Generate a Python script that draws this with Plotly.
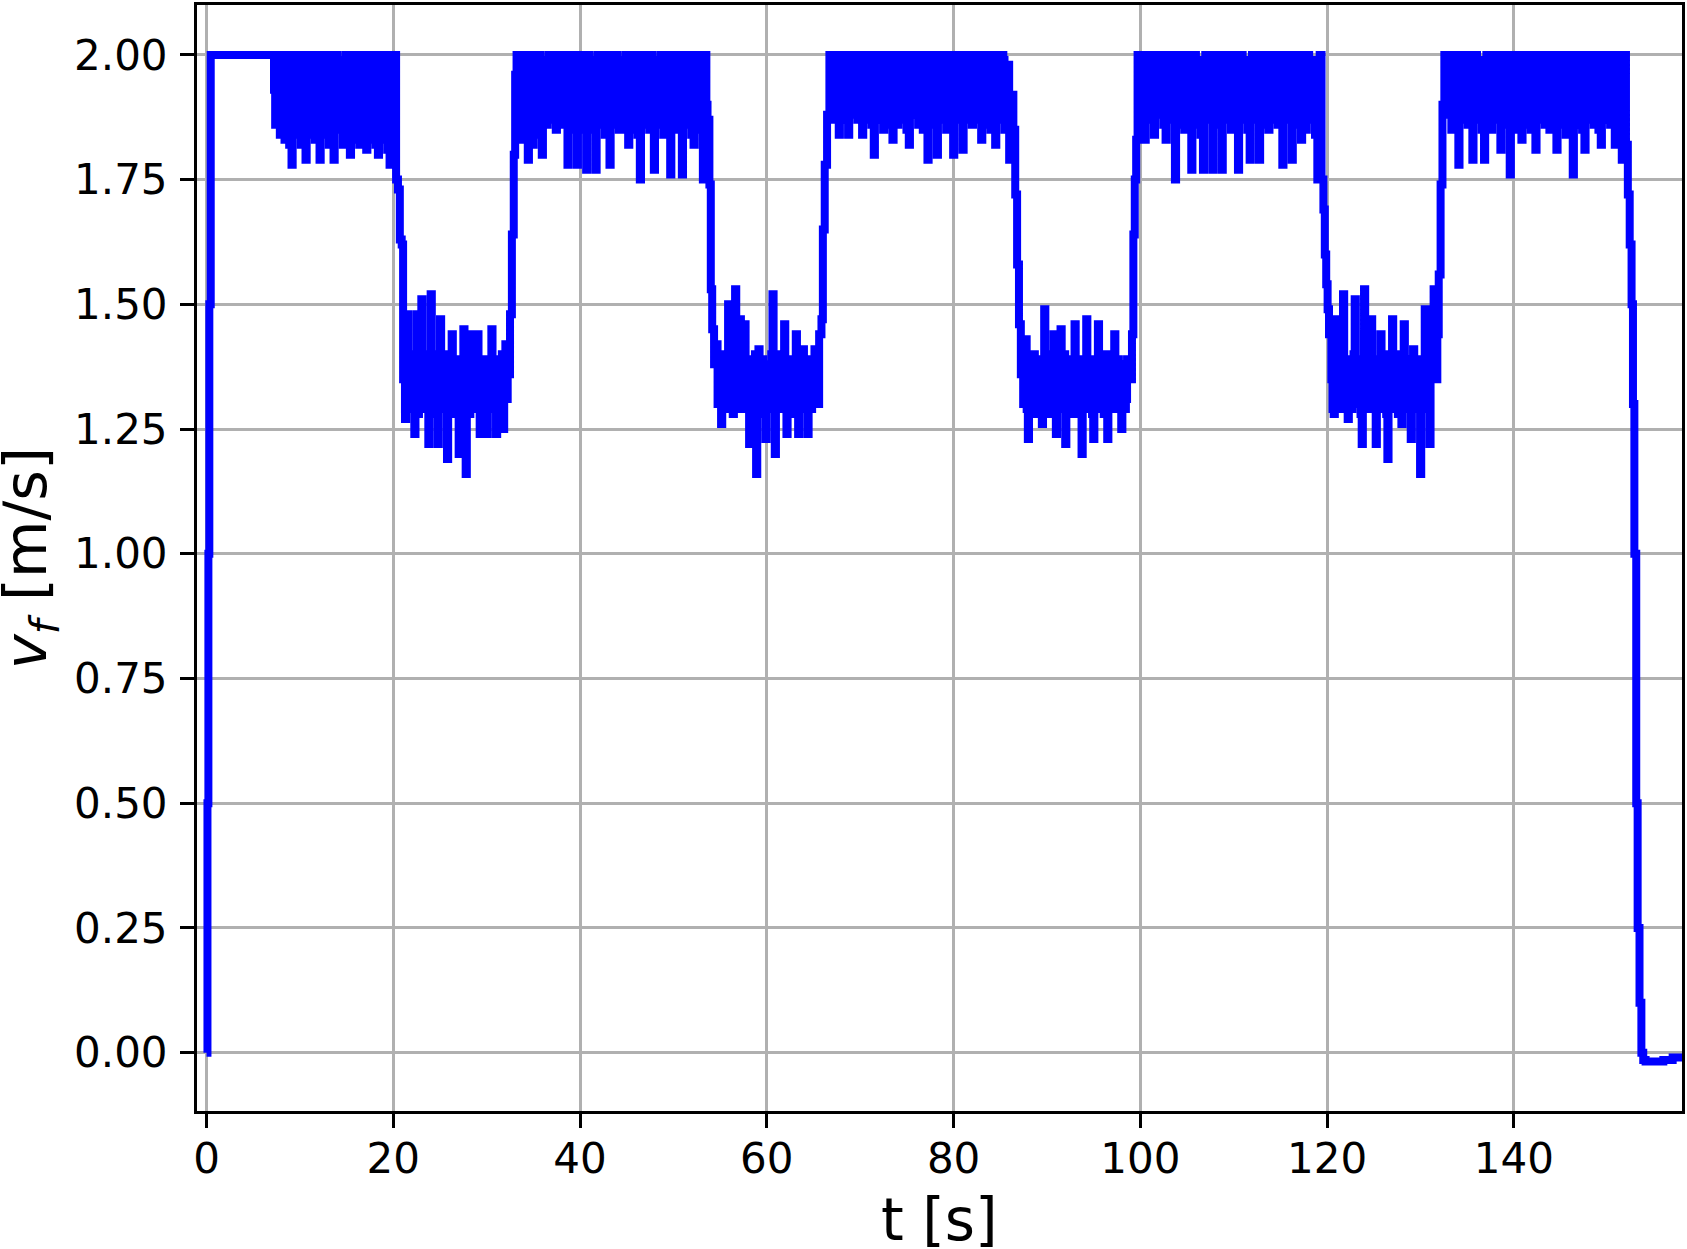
import numpy as np
import plotly.graph_objects as go

# ---------------- data ----------------
# Noisy phases: "<phase>" holds samples every DT seconds starting at
# "<phase>_t0"; "<phase>_mid" holds the samples in between (DT/2 later).
DT = 0.25

t_startup = [0.0, 0.1, 0.2, 0.3, 0.45]
v_startup = [0.0, 0.5, 1.0, 1.5, 2.0]

high1_t0 = 7.1
high1 = [2.00, 1.86, 2.00, 1.84, 1.99, 1.83, 2.00, 1.82, 1.78, 2.00,
         1.84, 1.98, 1.82, 2.00, 1.79, 1.96, 1.84, 2.00, 1.83, 2.00,
         1.79, 1.97, 1.84, 2.00, 1.82, 1.99, 1.79, 2.00, 1.85, 1.96,
         1.82, 2.00, 1.84, 1.80, 2.00, 1.83, 1.97, 1.82, 2.00, 1.84,
         1.81, 2.00, 1.83, 1.99, 1.82, 1.80, 2.00, 1.83, 2.00, 1.81,
         1.78, 1.98, 2.00]
high1_mid = [1.93, 1.99, 1.86, 2.00, 1.85, 1.98, 1.84, 1.86, 1.99, 1.85,
             2.00, 1.86, 1.97, 1.84, 2.00, 1.87, 1.99, 1.85, 2.00, 1.84,
             1.98, 1.86, 2.00, 1.85, 1.97, 1.84, 2.00, 1.87, 1.99, 1.85,
             1.98, 1.86, 2.00, 1.99, 1.85, 2.00, 1.84, 1.97, 1.86, 1.99,
             1.98, 1.85, 2.00, 1.84, 1.99, 1.97, 1.85, 1.99, 1.84, 1.99,
             2.00, 1.86]

fall1_t = [20.3, 20.5, 20.7, 20.9, 21.05]
fall1_v = [1.75, 1.73, 1.63, 1.62, 1.35]

low1_t0 = 21.25
low1 = [1.27, 1.48, 1.31, 1.36, 1.24, 1.48, 1.30, 1.51, 1.33, 1.29,
        1.22, 1.52, 1.33, 1.37, 1.22, 1.47, 1.31, 1.36, 1.19, 1.38,
        1.44, 1.30, 1.35, 1.20, 1.38, 1.45, 1.16, 1.34, 1.44, 1.31,
        1.36, 1.44, 1.24, 1.37, 1.30, 1.24, 1.38, 1.45, 1.31, 1.24,
        1.37, 1.32, 1.25, 1.42, 1.36]
low1_mid = [1.39, 1.29, 1.40, 1.30, 1.38, 1.28, 1.39, 1.30, 1.40, 1.37,
            1.39, 1.29, 1.40, 1.28, 1.38, 1.29, 1.40, 1.29, 1.37, 1.28,
            1.30, 1.39, 1.28, 1.38, 1.29, 1.31, 1.39, 1.28, 1.30, 1.40,
            1.29, 1.30, 1.38, 1.29, 1.39, 1.37, 1.29, 1.30, 1.39, 1.36,
            1.29, 1.40, 1.38, 1.31]

rise1_t = [32.5, 32.7, 32.9, 33.05, 33.2]
rise1_v = [1.48, 1.64, 1.80, 1.96, 2.00]

high2_t0 = 33.4
high2 = [1.97, 1.83, 2.00, 1.85, 1.79, 2.00, 1.82, 1.99, 1.84, 2.00,
         1.80, 1.98, 1.86, 2.00, 1.87, 1.95, 1.85, 2.00, 1.88, 1.97,
         1.86, 1.78, 2.00, 1.85, 1.99, 1.78, 2.00, 1.86, 1.98, 1.77,
         2.00, 1.85, 1.99, 1.77, 2.00, 1.88, 1.96, 1.84, 2.00, 1.78,
         1.98, 1.87, 2.00, 1.85, 1.97, 1.87, 2.00, 1.82, 1.99, 1.86,
         2.00, 1.84, 1.75, 2.00, 1.86, 1.98, 1.85, 2.00, 1.77, 1.97,
         1.87, 2.00, 1.84, 1.99, 1.86, 1.76, 2.00, 1.85, 1.98, 1.87,
         1.76, 2.00, 1.86, 1.99, 1.84, 1.82, 2.00, 1.85, 1.98, 1.75,
         2.00, 1.87]
high2_mid = [1.90, 1.99, 1.86, 1.98, 1.99, 1.85, 2.00, 1.86, 1.99, 1.85,
             1.99, 1.87, 1.98, 1.89, 2.00, 1.88, 1.97, 1.86, 2.00, 1.87,
             1.99, 1.98, 1.86, 2.00, 1.87, 1.99, 1.85, 2.00, 1.86, 1.99,
             1.87, 1.98, 1.86, 1.99, 1.86, 2.00, 1.88, 1.98, 1.86, 1.99,
             1.86, 2.00, 1.87, 1.99, 1.86, 1.98, 1.85, 2.00, 1.87, 1.99,
             1.85, 1.98, 1.99, 1.87, 2.00, 1.86, 1.99, 1.86, 1.98, 1.88,
             1.99, 1.86, 2.00, 1.87, 1.98, 1.99, 1.86, 2.00, 1.88, 1.99,
             1.98, 1.87, 2.00, 1.86, 1.98, 1.99, 1.86, 2.00, 1.86, 1.99,
             1.90]

fall2_t = [53.85, 54.0, 54.15, 54.35]
fall2_v = [1.74, 1.53, 1.45, 1.38]

low2_t0 = 54.6
low2 = [1.42, 1.31, 1.26, 1.40, 1.33, 1.50, 1.35, 1.28, 1.53, 1.32,
        1.47, 1.34, 1.46, 1.30, 1.22, 1.37, 1.31, 1.16, 1.41, 1.33,
        1.37, 1.23, 1.36, 1.30, 1.52, 1.20, 1.35, 1.31, 1.38, 1.46,
        1.24, 1.36, 1.30, 1.35, 1.44, 1.24, 1.34, 1.41, 1.30, 1.24,
        1.37, 1.33, 1.41, 1.30]
low2_mid = [1.30, 1.40, 1.38, 1.29, 1.39, 1.29, 1.30, 1.39, 1.30, 1.40,
            1.29, 1.38, 1.29, 1.39, 1.37, 1.29, 1.40, 1.36, 1.29, 1.39,
            1.28, 1.38, 1.29, 1.40, 1.29, 1.37, 1.29, 1.40, 1.29, 1.30,
            1.38, 1.29, 1.39, 1.28, 1.30, 1.38, 1.29, 1.30, 1.39, 1.37,
            1.29, 1.39, 1.30]

rise2_t = [65.6, 65.85, 66.0, 66.2, 66.45, 66.7]
rise2_v = [1.44, 1.47, 1.65, 1.78, 1.88, 2.00]

high3_t0 = 66.95
high3 = [1.87, 2.00, 1.88, 1.84, 2.00, 1.89, 1.98, 1.84, 2.00, 1.88,
         1.96, 1.87, 2.00, 1.84, 1.99, 1.88, 2.00, 1.86, 1.80, 2.00,
         1.87, 1.97, 1.85, 2.00, 1.88, 1.99, 1.83, 2.00, 1.86, 1.97,
         1.87, 2.00, 1.85, 1.82, 2.00, 1.88, 1.96, 1.86, 2.00, 1.85,
         1.98, 1.79, 2.00, 1.86, 1.99, 1.80, 2.00, 1.87, 1.97, 1.85,
         2.00, 1.86, 1.80, 2.00, 1.87, 1.99, 1.81, 2.00, 1.88, 1.97,
         1.86, 2.00, 1.87, 1.98, 1.83, 2.00, 1.86, 1.99, 1.85, 2.00,
         1.82, 1.98, 1.87, 2.00, 1.85, 1.96, 1.79, 1.92]
high3_mid = [1.99, 1.90, 1.98, 1.99, 1.88, 2.00, 1.87, 1.99, 1.89, 2.00,
             1.88, 1.99, 1.87, 2.00, 1.88, 1.99, 1.87, 1.98, 1.99, 1.88,
             2.00, 1.87, 1.99, 1.89, 2.00, 1.86, 1.99, 1.88, 2.00, 1.87,
             1.99, 1.87, 1.98, 1.99, 1.89, 2.00, 1.88, 1.99, 1.87, 2.00,
             1.98, 1.88, 2.00, 1.87, 1.99, 1.88, 2.00, 1.88, 1.99, 1.87,
             2.00, 1.98, 1.88, 2.00, 1.88, 1.99, 1.87, 2.00, 1.89, 1.99,
             1.88, 2.00, 1.87, 1.99, 1.88, 2.00, 1.87, 1.99, 1.88, 1.99,
             1.87, 2.00, 1.88, 1.99, 1.87, 1.98, 1.88]

fall3_t = [86.4, 86.6, 86.8, 87.0, 87.2]
fall3_v = [1.85, 1.72, 1.58, 1.46, 1.36]

low3_t0 = 87.45
low3 = [1.30, 1.43, 1.23, 1.36, 1.31, 1.38, 1.29, 1.35, 1.26, 1.49,
        1.32, 1.37, 1.30, 1.44, 1.24, 1.36, 1.45, 1.31, 1.22, 1.37,
        1.32, 1.35, 1.46, 1.30, 1.36, 1.20, 1.38, 1.47, 1.31, 1.35,
        1.23, 1.37, 1.46, 1.30, 1.35, 1.32, 1.23, 1.38, 1.31, 1.44,
        1.33, 1.29, 1.25, 1.37, 1.31, 1.38]
low3_mid = [1.39, 1.29, 1.38, 1.29, 1.40, 1.28, 1.39, 1.29, 1.38, 1.30,
            1.40, 1.28, 1.39, 1.30, 1.37, 1.29, 1.30, 1.40, 1.37, 1.29,
            1.39, 1.28, 1.31, 1.39, 1.29, 1.38, 1.29, 1.30, 1.39, 1.28,
            1.38, 1.29, 1.30, 1.39, 1.28, 1.40, 1.37, 1.29, 1.40, 1.30,
            1.39, 1.38, 1.36, 1.29, 1.39]

rise3_t = [98.95, 99.1, 99.25, 99.4, 99.55, 99.7]
rise3_v = [1.35, 1.44, 1.64, 1.75, 1.83, 2.00]

high4_t0 = 99.95
high4 = [1.88, 2.00, 1.83, 1.99, 1.87, 2.00, 1.84, 1.97, 1.88, 2.00,
         1.86, 1.83, 2.00, 1.87, 1.98, 1.75, 2.00, 1.86, 1.99, 1.85,
         2.00, 1.87, 1.77, 2.00, 1.86, 1.97, 1.84, 1.77, 2.00, 1.88,
         1.98, 1.77, 2.00, 1.86, 1.99, 1.77, 2.00, 1.87, 1.96, 1.85,
         2.00, 1.86, 1.77, 2.00, 1.88, 1.98, 1.85, 1.79, 2.00, 1.87,
         1.99, 1.79, 2.00, 1.86, 1.97, 1.85, 2.00, 1.88, 1.98, 1.86,
         2.00, 1.78, 1.99, 1.87, 2.00, 1.79, 1.98, 1.86, 2.00, 1.83,
         1.97, 1.85, 2.00, 1.87, 1.99, 1.84, 1.75, 2.00]
high4_mid = [1.99, 1.87, 2.00, 1.88, 1.99, 1.87, 2.00, 1.89, 1.99, 1.88,
             1.99, 1.87, 2.00, 1.88, 1.99, 1.86, 2.00, 1.87, 1.99, 1.88,
             1.99, 1.98, 1.87, 2.00, 1.88, 1.99, 1.98, 1.87, 2.00, 1.88,
             1.99, 1.87, 2.00, 1.88, 1.99, 1.87, 2.00, 1.88, 1.99, 1.87,
             1.99, 1.98, 1.87, 2.00, 1.88, 1.99, 1.98, 1.87, 2.00, 1.88,
             1.99, 1.87, 2.00, 1.88, 1.99, 1.87, 2.00, 1.88, 1.99, 1.87,
             1.99, 1.88, 2.00, 1.87, 1.99, 1.88, 2.00, 1.87, 1.99, 1.88,
             2.00, 1.87, 1.99, 1.88, 1.99, 1.97, 1.88]

fall4_t = [119.4, 119.6, 119.75, 119.9, 120.05, 120.2]
fall4_v = [1.75, 1.69, 1.60, 1.54, 1.49, 1.44]

low4_t0 = 120.45
low4 = [1.35, 1.28, 1.47, 1.33, 1.38, 1.52, 1.31, 1.27, 1.37, 1.33,
        1.51, 1.30, 1.36, 1.22, 1.53, 1.32, 1.38, 1.47, 1.29, 1.22,
        1.36, 1.44, 1.31, 1.34, 1.19, 1.37, 1.47, 1.30, 1.35, 1.32,
        1.26, 1.46, 1.31, 1.36, 1.23, 1.41, 1.33, 1.29, 1.16, 1.37,
        1.49, 1.31, 1.22, 1.36]
low4_mid = [1.29, 1.39, 1.30, 1.40, 1.29, 1.30, 1.39, 1.38, 1.29, 1.40,
            1.30, 1.39, 1.28, 1.38, 1.29, 1.40, 1.29, 1.30, 1.39, 1.37,
            1.29, 1.30, 1.40, 1.28, 1.38, 1.29, 1.30, 1.39, 1.28, 1.40,
            1.38, 1.29, 1.39, 1.29, 1.38, 1.29, 1.39, 1.37, 1.38, 1.29,
            1.30, 1.39, 1.37]

rise4_t = [131.4, 131.6, 131.8, 131.95, 132.15, 132.35, 132.55]
rise4_v = [1.53, 1.35, 1.44, 1.56, 1.74, 1.90, 2.00]

high5_t0 = 132.8
high5 = [1.88, 2.00, 1.85, 1.99, 1.86, 1.78, 2.00, 1.87, 1.98, 1.86,
         2.00, 1.79, 2.00, 1.87, 1.97, 1.85, 1.79, 2.00, 1.88, 1.85,
         2.00, 1.87, 1.99, 1.81, 2.00, 1.86, 1.98, 1.76, 2.00, 1.85,
         1.99, 1.87, 1.83, 2.00, 1.86, 1.97, 1.85, 2.00, 1.81, 1.99,
         1.87, 2.00, 1.86, 1.98, 1.85, 2.00, 1.87, 1.81, 2.00, 1.86,
         1.98, 1.84, 2.00, 1.87, 1.76, 2.00, 1.86, 1.99, 1.85, 1.81,
         2.00, 1.87, 1.97, 1.86, 2.00, 1.85, 1.82, 2.00, 1.87, 1.98,
         1.86, 2.00, 1.82, 1.99, 1.86, 1.79, 2.00]
high5_mid = [1.99, 1.88, 2.00, 1.87, 1.99, 1.98, 1.88, 1.99, 1.87, 2.00,
             1.99, 1.88, 2.00, 1.87, 1.99, 1.98, 1.88, 2.00, 1.98, 1.87,
             2.00, 1.88, 1.99, 1.98, 1.87, 2.00, 1.88, 1.99, 1.87, 2.00,
             1.88, 1.99, 1.98, 1.88, 2.00, 1.87, 1.99, 1.88, 1.99, 1.87,
             2.00, 1.88, 1.99, 1.87, 2.00, 1.88, 1.99, 1.98, 1.87, 2.00,
             1.88, 1.99, 1.87, 1.99, 1.98, 1.88, 2.00, 1.87, 1.99, 1.98,
             1.88, 2.00, 1.87, 1.99, 1.88, 2.00, 1.98, 1.88, 2.00, 1.87,
             1.99, 1.88, 2.00, 1.87, 1.99, 1.98]

t_stop = [152.0, 152.2, 152.4, 152.6, 152.75, 152.9, 153.1, 153.25,
          153.45, 153.65, 153.85, 154.1, 155.0, 156.0, 157.0, 158.0]
v_stop = [1.82, 1.72, 1.62, 1.50, 1.30, 1.00, 0.50, 0.25,
          0.10, 0.00, -0.015, -0.018, -0.018, -0.015, -0.010, -0.006]

x_ticks = [0, 20, 40, 60, 80, 100, 120, 140]
y_ticks = [0.0, 0.25, 0.5, 0.75, 1.0, 1.25, 1.5, 1.75, 2.0]
x_label = "t [s]"
y_label = "<i>v</i><sub><i>f</i></sub> [m/s]"

# ---------------- assemble the series ----------------
def sampled(t0, vals, mids):
    pts = [(t0 + DT * i, v) for i, v in enumerate(vals)]
    n = min(len(mids), len(vals) - 1)
    pts += [(t0 + DT * (i + 0.5), mids[i]) for i in range(n)]
    return pts

points = list(zip(t_startup, v_startup))
points += sampled(high1_t0, high1, high1_mid) + list(zip(fall1_t, fall1_v))
points += sampled(low1_t0, low1, low1_mid) + list(zip(rise1_t, rise1_v))
points += sampled(high2_t0, high2, high2_mid) + list(zip(fall2_t, fall2_v))
points += sampled(low2_t0, low2, low2_mid) + list(zip(rise2_t, rise2_v))
points += sampled(high3_t0, high3, high3_mid) + list(zip(fall3_t, fall3_v))
points += sampled(low3_t0, low3, low3_mid) + list(zip(rise3_t, rise3_v))
points += sampled(high4_t0, high4, high4_mid) + list(zip(fall4_t, fall4_v))
points += sampled(low4_t0, low4, low4_mid) + list(zip(rise4_t, rise4_v))
points += sampled(high5_t0, high5, high5_mid) + list(zip(t_stop, v_stop))
points.sort(key=lambda p: p[0])
t_all = [round(p[0], 4) for p in points]
v_all = [p[1] for p in points]

# ---------------- figure ----------------
W, H = 1687, 1249
ML, MR, MT, MB = 197, 3, 2, 138
FONT = "DejaVu Sans"

fig = go.Figure()
fig.add_trace(go.Scatter(
    x=t_all, y=v_all, mode="lines",
    line=dict(color="#0000ff", width=8, shape="hv", simplify=False),
    showlegend=False, hoverinfo="skip",
))

axis_common = dict(
    showgrid=True, gridcolor="#b0b0b0", gridwidth=3,
    zeroline=False,
    showline=True, linecolor="black", linewidth=3, mirror=True,
    ticks="outside", ticklen=14, tickwidth=3, tickcolor="black",
    tickfont=dict(family=FONT, size=42, color="black"),
)

fig.update_layout(
    width=W, height=H,
    margin=dict(l=ML, r=MR, t=MT, b=MB, pad=0),
    paper_bgcolor="white", plot_bgcolor="white",
    xaxis=dict(range=[-1.02, 158.0], tickvals=x_ticks,
               ticklabelstandoff=-5, **axis_common),
    yaxis=dict(range=[-0.117, 2.1], tickvals=y_ticks, tickformat=".2f",
               ticklabelstandoff=4, **axis_common),
)

ph = H - MT - MB
pw = W - ML - MR
fig.add_annotation(
    text=x_label, xref="paper", yref="paper",
    x=0.5, y=-(1220 - (H - MB)) / ph, xanchor="center", yanchor="middle",
    showarrow=False, font=dict(family=FONT, size=58, color="black"),
)
fig.add_annotation(
    text=y_label, xref="paper", yref="paper",
    x=-(ML - 29) / pw, y=0.5, xanchor="center", yanchor="middle",
    textangle=-90, showarrow=False,
    font=dict(family=FONT, size=59, color="black"),
)

fig.write_html("out.html")
